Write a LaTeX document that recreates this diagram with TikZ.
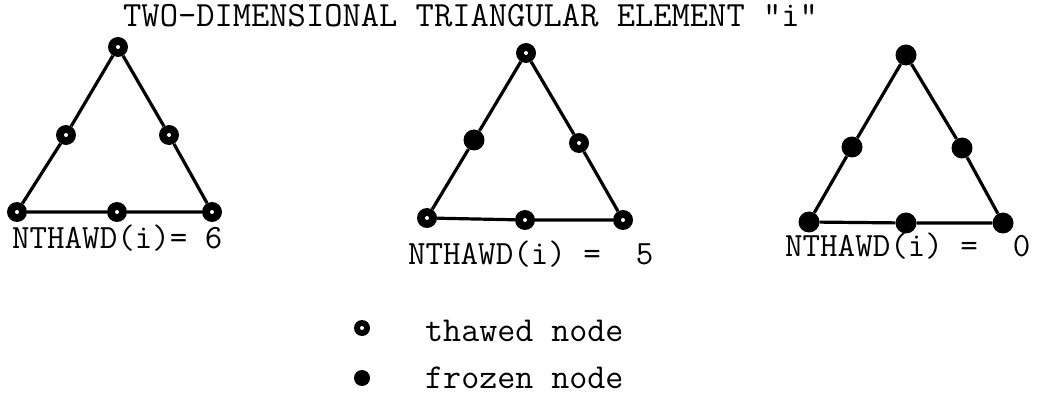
\documentclass[tikz,border=0pt]{standalone}
\usepackage{tikz}
\begin{document}
\begin{tikzpicture}[x=1pt,y=-1pt,line join=round,
  edge/.style={line width=3.2pt},
  thawed/.style={circle,fill=black,inner sep=0pt,minimum size=20pt,
    path picture={\fill[white] (path picture bounding box.center) circle (2pt);}},
  frozen/.style={circle,fill=black,inner sep=0pt,minimum size=21pt},
  tt/.style={font=\fontsize{34}{40}\selectfont\ttfamily,inner sep=0pt,anchor=base west}]
  \useasboundingbox (0,0) rectangle (1043,395);
  \node[tt,font=\fontsize{35.5}{40}\selectfont\ttfamily] (title) at (123,27) {TWO-DIMENSIONAL TRIANGULAR ELEMENT "i"};
  % all six nodes thawed
  \node[thawed] (a1) at (118,47) {};
  \node[thawed] (l1) at (66,135) {};
  \node[thawed] (r1) at (169,135) {};
  \node[thawed] (p1) at (17,212) {};
  \node[thawed] (m1) at (117,212) {};
  \node[thawed] (q1) at (212,212) {};
  \draw[edge] (a1)--(l1)--(p1)--(m1)--(q1)--(r1)--(a1);
  \node[tt] (n1) at (12,248) {NTHAWD(i)= 6};
  % one node frozen
  \node[thawed] (a2) at (526,53) {};
  \node[frozen] (l2) at (474,140) {};
  \node[thawed] (r2) at (579,143) {};
  \node[thawed] (p2) at (427,218) {};
  \node[thawed] (m2) at (525,220) {};
  \node[thawed] (q2) at (623,220) {};
  \draw[edge] (a2)--(l2)--(p2)--(m2)--(q2)--(r2)--(a2);
  \node[tt] (n2) at (408,264) {NTHAWD(i) =~~5};
  % all frozen
  \node[frozen] (a3) at (906,55) {};
  \node[frozen] (l3) at (852,147) {};
  \node[frozen] (r3) at (962,148) {};
  \node[frozen] (p3) at (809,222) {};
  \node[frozen] (m3) at (906,223) {};
  \node[frozen] (q3) at (1003,223) {};
  \draw[edge] (a3)--(l3)--(p3)--(m3)--(q3)--(r3)--(a3);
  \node[tt] (n3) at (785,257) {NTHAWD(i) =~~0};
  % legend
  \node[thawed,minimum size=16pt] (kt) at (362,328) {};
  \node[tt,font=\fontsize{35}{40}\selectfont\ttfamily] (kta) at (425,341) {thawed node};
  \node[frozen,minimum size=16pt] (kf) at (362,378) {};
  \node[tt,font=\fontsize{35}{40}\selectfont\ttfamily] (kfa) at (425,388) {frozen node};
\end{tikzpicture}
\end{document}
